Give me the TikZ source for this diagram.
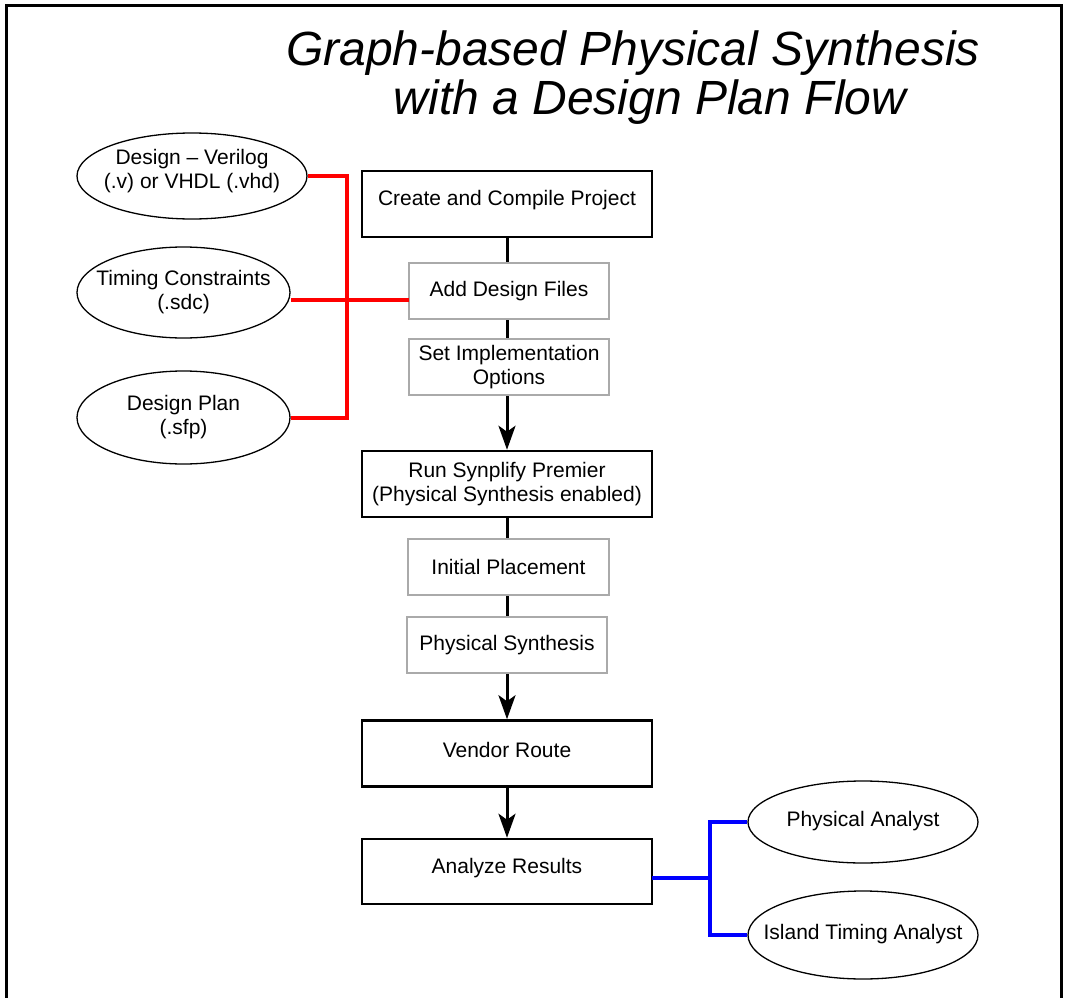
\documentclass[tikz,border=0pt]{standalone}
\usepackage{fontspec}
\setmainfont{Liberation Sans}
\usetikzlibrary{arrows.meta,shapes.geometric}
\definecolor{boxgray}{RGB}{170,170,170}
\newcommand{\ovltext}[1]{\makebox[120pt]{\begin{tabular}{@{}c@{}}#1\end{tabular}}}
\newcommand{\upby}[2]{\raisebox{#1}[\height][\depth]{#2}}
\begin{document}
\begin{tikzpicture}[x=1pt,y=-1pt,
  every node/.style={font=\fontsize{21}{24}\selectfont},
  mainbox/.style={draw=black,line width=2.5pt,minimum width=290pt,minimum height=66pt,align=center,inner sep=0pt},
  subbox/.style={draw=boxgray,line width=2pt,minimum width=200pt,minimum height=56pt,align=center,inner sep=0pt},
  src/.style={ellipse,draw=black,line width=1.3pt,inner sep=0pt},
  flow/.style={line width=3pt},
  flowarrow/.style={line width=3pt,-{Stealth[length=24pt,width=17pt,inset=6pt]}},
  redline/.style={red,line width=4pt},
  blueline/.style={blue,line width=4pt},
  titletext/.style={font=\fontsize{48}{56}\selectfont\itshape,anchor=base,inner sep=0pt}]

\useasboundingbox (0,0) rectangle (1066,998);

% frame
\coordinate (fbl) at (6,998);
\coordinate (ftl) at (6,6);
\coordinate (ftr) at (1061,6);
\coordinate (fbr) at (1061,998);
\draw[line width=3pt] (fbl) -- (ftl) -- (ftr) -- (fbr);

% title
\node[titletext] (title1) at (633,66) {Graph-based Physical Synthesis};
\node[titletext] (title2) at (650,114) {with a Design Plan Flow};

% main flow
\node[mainbox] (create) at (507,204) {\upby{4pt}{Create and Compile Project}};
\node[subbox] (add) at (509,291) {Add Design Files};
\node[subbox] (impl) at (509,367) {Set Implementation\\Options};
\node[mainbox] (run) at (507,484) {Run Synplify Premier\\(Physical Synthesis enabled)};
\node[subbox,minimum width=201pt] (init) at (508.5,567) {Initial Placement};
\node[subbox] (phys) at (507,645) {Physical Synthesis};
\node[mainbox] (vendor) at (507,753.5) {\upby{4pt}{Vendor Route}};
\node[mainbox,minimum height=65pt] (analyze) at (507,871.5) {\upby{3pt}{Analyze Results}};

% source ellipses
\node[src,minimum width=230pt,minimum height=86pt] (verilog) at (192,176) {\upby{4pt}{\ovltext{Design – Verilog\\(.v) or VHDL (.vhd)}}};
\node[src,minimum width=213pt,minimum height=91pt] (timing) at (183.5,292.5) {\ovltext{Timing Constraints\\(.sdc)}};
\node[src,minimum width=213pt,minimum height=93pt] (plan) at (183.5,417.5) {\ovltext{Design Plan\\(.sfp)}};

% analysis ellipses
\node[src,minimum width=230pt,minimum height=82pt] (pa) at (863,822) {\ovltext{Physical Analyst}};
\node[src,minimum width=230pt,minimum height=88pt] (ita) at (863,935) {\ovltext{Island Timing Analyst}};

% flow connectors
\draw[flow] (create.south) -- (create.south |- add.north);
\draw[flow] (create.south |- add.south) -- (create.south |- impl.north);
\draw[flowarrow] (create.south |- impl.south) -- (run.north);
\draw[flow] (run.south) -- (run.south |- init.north);
\draw[flow] (run.south |- init.south) -- (run.south |- phys.north);
\draw[flowarrow] (run.south |- phys.south) -- (vendor.north);
\draw[flowarrow] (vendor.south) -- (analyze.north);

% red inputs
\coordinate (rbus) at (347,300);
\coordinate (addin) at (409,300);
\draw[redline] (verilog.east) -- (verilog.east -| rbus) -- (plan.east -| rbus) -- (plan.east);
\draw[redline] (addin) -- (addin -| timing.east);

% blue outputs
\coordinate (bbus) at (710,878);
\coordinate (anout) at (652,878);
\draw[blueline] (anout) -- (bbus);
\draw[blueline] (pa.west) -- (pa.west -| bbus) -- (ita.west -| bbus) -- (ita.west);
\end{tikzpicture}
\end{document}
